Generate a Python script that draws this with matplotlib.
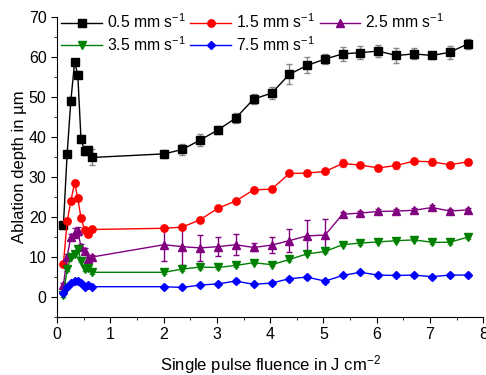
import matplotlib.pyplot as plt
from matplotlib.ticker import MultipleLocator

plt.rcParams['font.family'] = ['Liberation Sans', 'DejaVu Sans']
plt.rcParams['mathtext.fontset'] = 'custom'
plt.rcParams['mathtext.rm'] = 'Liberation Sans'
plt.rcParams['mathtext.it'] = 'Liberation Sans:italic'
plt.rcParams['mathtext.bf'] = 'Liberation Sans:bold'

# fluence values (J cm^-2)
fluence = [0.12, 0.19, 0.26, 0.33, 0.39, 0.45, 0.52, 0.59, 0.65,
           2.01, 2.35, 2.68, 3.02, 3.35, 3.69, 4.03, 4.36, 4.69, 5.03,
           5.36, 5.69, 6.03, 6.37, 6.70, 7.04, 7.37, 7.71]

depth_05 = [17.8, 35.7, 49.0, 58.6, 55.5, 39.4, 36.3, 36.7, 34.8,
            35.7, 36.8, 39.1, 41.7, 44.6, 49.4, 50.9, 55.6, 57.8, 59.4,
            60.7, 61.0, 61.4, 60.3, 60.7, 60.3, 61.1, 63.2]
err_05 = [0.8, 0.8, 1.0, 0.8, 0.8, 1.0, 1.0, 1.0, 2.0,
          1.0, 1.3, 1.5, 1.0, 1.2, 1.2, 1.5, 2.5, 2.0, 1.3,
          1.8, 1.6, 1.5, 1.8, 1.4, 0.8, 1.6, 1.3]

depth_15 = [8.2, 18.8, 23.9, 28.5, 24.6, 19.7, 16.6, 15.6, 16.8,
            17.1, 17.4, 19.2, 22.1, 23.9, 26.7, 26.9, 30.8, 30.9, 31.3,
            33.3, 32.9, 32.2, 32.8, 33.9, 33.7, 33.0, 33.7]
err_15 = [0.5, 0.6, 0.6, 0.7, 0.6, 0.6, 0.6, 0.6, 0.6,
          0.6, 0.6, 0.6, 0.6, 0.6, 0.6, 0.6, 0.6, 0.6, 0.6,
          1.0, 0.6, 0.6, 0.9, 0.6, 0.9, 0.6, 0.7]

depth_25 = [2.8, 10.0, 14.9, 15.9, 16.3, 12.5, 11.5, 9.4, 9.9,
            13.0, 12.5, 12.2, 12.5, 13.0, 12.3, 12.9, 14.0, 15.2, 15.4,
            20.6, 20.9, 21.3, 21.4, 21.6, 22.3, 21.4, 21.7]
err_25 = [0.5, 0.6, 0.8, 1.2, 1.0, 0.6, 0.6, 0.6, 0.6,
          4.0, 4.5, 3.3, 2.3, 2.7, 1.0, 2.0, 2.8, 3.9, 4.0,
          0.5, 0.6, 0.6, 0.6, 0.6, 0.6, 0.5, 0.5]

depth_35 = [0.4, 6.9, 10.0, 10.6, 12.0, 9.0, 6.9, 7.1, 6.1,
            6.1, 6.9, 7.4, 7.3, 7.8, 8.5, 8.0, 9.3, 10.7, 11.3,
            13.0, 13.4, 13.7, 14.0, 14.2, 13.6, 13.6, 14.9]
err_35 = [0.4] * len(fluence)

depth_75 = [1.0, 2.4, 3.3, 3.9, 3.9, 3.4, 2.5, 2.9, 2.5,
            2.5, 2.3, 2.9, 3.2, 3.9, 3.1, 3.4, 4.5, 4.9, 3.9,
            5.3, 6.1, 5.4, 5.3, 5.4, 5.0, 5.4, 5.4]
err_75 = [0.4] * len(fluence)

series = [
    (depth_05, err_05, 'black', 's', '#888888', '0.5 mm s$^{-1}$'),
    (depth_15, err_15, 'red', 'o', '#ff8080', '1.5 mm s$^{-1}$'),
    (depth_25, err_25, 'purple', '^', 'purple', '2.5 mm s$^{-1}$'),
    (depth_35, err_35, 'green', 'v', '#60b060', '3.5 mm s$^{-1}$'),
    (depth_75, err_75, 'blue', 'D', '#8080ff', '7.5 mm s$^{-1}$'),
]

fig = plt.figure(figsize=(4.86, 3.75), dpi=100)
ax = fig.add_axes([0.1173, 0.1555, 0.8771, 0.80])

handles = []
for y, e, c, m, ec, lab in series:
    ax.errorbar(fluence, y, yerr=e, fmt='none', ecolor=ec, elinewidth=1.0,
                capsize=2.5, capthick=1.0, zorder=2)
    ms = 4.5 if m == 'D' else 5.3
    h, = ax.plot(fluence, y, color=c, marker=m, markersize=ms, lw=1.0,
                 label=lab, zorder=3)
    handles.append(h)

ax.set_xlim(0, 8)
ax.set_ylim(-5, 70)
ax.xaxis.set_major_locator(MultipleLocator(1))
ax.xaxis.set_minor_locator(MultipleLocator(0.5))
ax.yaxis.set_major_locator(MultipleLocator(10))
ax.yaxis.set_minor_locator(MultipleLocator(5))
ax.spines['top'].set_visible(False)
ax.spines['right'].set_visible(False)
ax.tick_params(which='major', direction='out', length=4, labelsize=11.5)
ax.tick_params(which='minor', direction='out', length=2.5)

ax.set_xlabel('Single pulse fluence in J cm$^{-2}$', fontsize=12, labelpad=8)
ax.set_ylabel('Ablation depth in µm', fontsize=12, labelpad=1)

# row-major order in the legend: 0.5, 1.5, 2.5 / 3.5, 7.5
order = [0, 3, 1, 4, 2]
ax.legend(handles=[handles[i] for i in order], loc='upper left', ncol=3,
          frameon=False, fontsize=11.3, handlelength=2.6, columnspacing=0.3,
          handletextpad=0.3, labelspacing=0.25, borderaxespad=0.0,
          bbox_to_anchor=(-0.005, 1.035))

fig.savefig('out.png', dpi=100)
